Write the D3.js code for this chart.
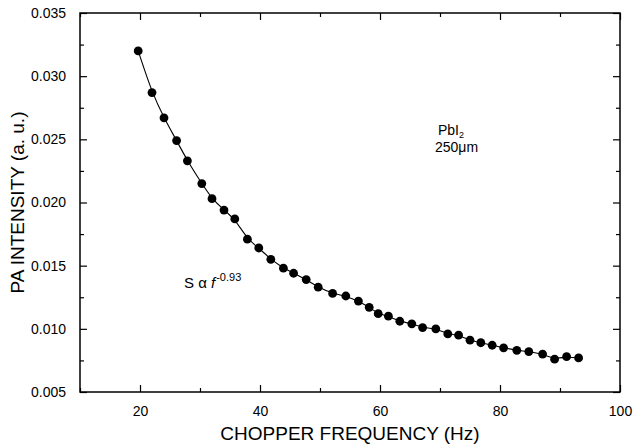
<!DOCTYPE html>
<html>
<head>
<meta charset="utf-8">
<style>
  body { margin: 0; background: #fff; }
  svg text { font-family: "Liberation Sans", Arial, sans-serif; fill: #000; }
  .axis path { display: none; }
  .axis line { stroke: #000; stroke-width: 1.2; }
  .axis text { font-size: 14px; }
  .frame { fill: none; stroke: #000; stroke-width: 1.5; }
  .fit { fill: none; stroke: #000; stroke-width: 1.1; }
  .dot { fill: #000; }
</style>
</head>
<body>
<script src="https://d3js.org/d3.v7.min.js"></script>
<div id="chart"></div>
<script>
// chopper frequency (Hz)
var freq = [19.7, 22.0, 24.0, 26.1, 27.9, 30.3, 32.0, 34.0, 35.8, 37.9,
            39.8, 41.8, 43.9, 45.6, 47.7, 49.7, 52.1, 54.3, 56.4, 58.2,
            59.7, 61.4, 63.3, 65.3, 67.1, 69.3, 71.3, 73.1, 75.0, 76.8,
            78.7, 80.6, 82.8, 84.8, 87.1, 89.1, 91.1, 93.1];
// PA intensity (a. u.)
var intensity = [0.0320, 0.0287, 0.0267, 0.0249, 0.0233, 0.0215, 0.0203, 0.0194, 0.0187, 0.0171,
                 0.0164, 0.0155, 0.0148, 0.0144, 0.0139, 0.0133, 0.0128, 0.0126, 0.0122, 0.0117,
                 0.0112, 0.0110, 0.0106, 0.0104, 0.0101, 0.0100, 0.0096, 0.0095, 0.0091, 0.0089,
                 0.0087, 0.0085, 0.0083, 0.0082, 0.0080, 0.0076, 0.0078, 0.0077];

var xMajor = [20, 40, 60, 80, 100];
var xMinor = [10, 30, 50, 70, 90];
var yMajor = [0.005, 0.010, 0.015, 0.020, 0.025, 0.030, 0.035];
var yMinor = [0.0075, 0.0125, 0.0175, 0.0225, 0.0275, 0.0325];

var width = 633, height = 446;
var plotL = 80, plotR = 620, plotT = 13, plotB = 392;

var data = freq.map(function(f, i) { return {f: f, s: intensity[i]}; });

var x = d3.scaleLinear().domain([10, 100]).range([plotL, plotR]);
var y = d3.scaleLinear().domain([0.005, 0.035]).range([plotB, plotT]);

var svg = d3.select("#chart").append("svg")
    .attr("width", width)
    .attr("height", height);

// bottom axis (ticks point inward)
svg.append("g").attr("class", "axis")
    .attr("transform", "translate(0," + plotB + ")")
    .call(d3.axisBottom(x).tickValues(xMajor).tickSizeInner(-7).tickSizeOuter(0).tickPadding(14).tickFormat(d3.format("d")));
svg.append("g").attr("class", "axis")
    .attr("transform", "translate(0," + plotB + ")")
    .call(d3.axisBottom(x).tickValues(xMinor).tickSizeInner(-4).tickSizeOuter(0).tickFormat(""));

// top axis
svg.append("g").attr("class", "axis")
    .attr("transform", "translate(0," + plotT + ")")
    .call(d3.axisTop(x).tickValues(xMajor).tickSizeInner(-7).tickSizeOuter(0).tickFormat(""));
svg.append("g").attr("class", "axis")
    .attr("transform", "translate(0," + plotT + ")")
    .call(d3.axisTop(x).tickValues(xMinor).tickSizeInner(-4).tickSizeOuter(0).tickFormat(""));

// left axis
svg.append("g").attr("class", "axis")
    .attr("transform", "translate(" + plotL + ",0)")
    .call(d3.axisLeft(y).tickValues(yMajor).tickSizeInner(-7).tickSizeOuter(0).tickPadding(14).tickFormat(d3.format(".3f")));
svg.append("g").attr("class", "axis")
    .attr("transform", "translate(" + plotL + ",0)")
    .call(d3.axisLeft(y).tickValues(yMinor).tickSizeInner(-4).tickSizeOuter(0).tickFormat(""));

// right axis
svg.append("g").attr("class", "axis")
    .attr("transform", "translate(" + plotR + ",0)")
    .call(d3.axisRight(y).tickValues(yMajor).tickSizeInner(-7).tickSizeOuter(0).tickFormat(""));
svg.append("g").attr("class", "axis")
    .attr("transform", "translate(" + plotR + ",0)")
    .call(d3.axisRight(y).tickValues(yMinor).tickSizeInner(-4).tickSizeOuter(0).tickFormat(""));

// frame
svg.append("rect").attr("class", "frame")
    .attr("x", plotL).attr("y", plotT)
    .attr("width", plotR - plotL).attr("height", plotB - plotT);

// smooth curve through the points
var line = d3.line()
    .x(function(d) { return x(d.f); })
    .y(function(d) { return y(d.s); })
    .curve(d3.curveBasis);

svg.append("path").datum(data).attr("class", "fit").attr("d", line);

svg.selectAll(".dot")
    .data(data)
    .enter().append("circle")
    .attr("class", "dot")
    .attr("cx", function(d) { return x(d.f); })
    .attr("cy", function(d) { return y(d.s); })
    .attr("r", 4.4);

// axis titles
svg.append("text")
    .attr("x", (plotL + plotR) / 2).attr("y", 440)
    .attr("text-anchor", "middle")
    .style("font-size", "19px")
    .text("CHOPPER FREQUENCY (Hz)");

svg.append("text")
    .attr("transform", "translate(24," + ((plotT + plotB) / 2) + ") rotate(-90)")
    .attr("text-anchor", "middle")
    .style("font-size", "19px")
    .text("PA INTENSITY (a. u.)");

// sample label
var lab = svg.append("text").attr("x", 438).attr("y", 135).style("font-size", "14px");
lab.append("tspan").text("PbI");
lab.append("tspan").attr("dy", 3).style("font-size", "9px").text("2");
svg.append("text").attr("x", 435).attr("y", 152).style("font-size", "14px").text("250\u03bcm");

// power-law note
var note = svg.append("text").attr("x", 184).attr("y", 288).style("font-size", "15px");
note.append("tspan").text("S \u03b1 ");
note.append("tspan").style("font-style", "italic").text("f");
note.append("tspan").attr("dy", -7).attr("dx", 1).style("font-size", "11px").text("-0.93");
</script>
</body>
</html>
